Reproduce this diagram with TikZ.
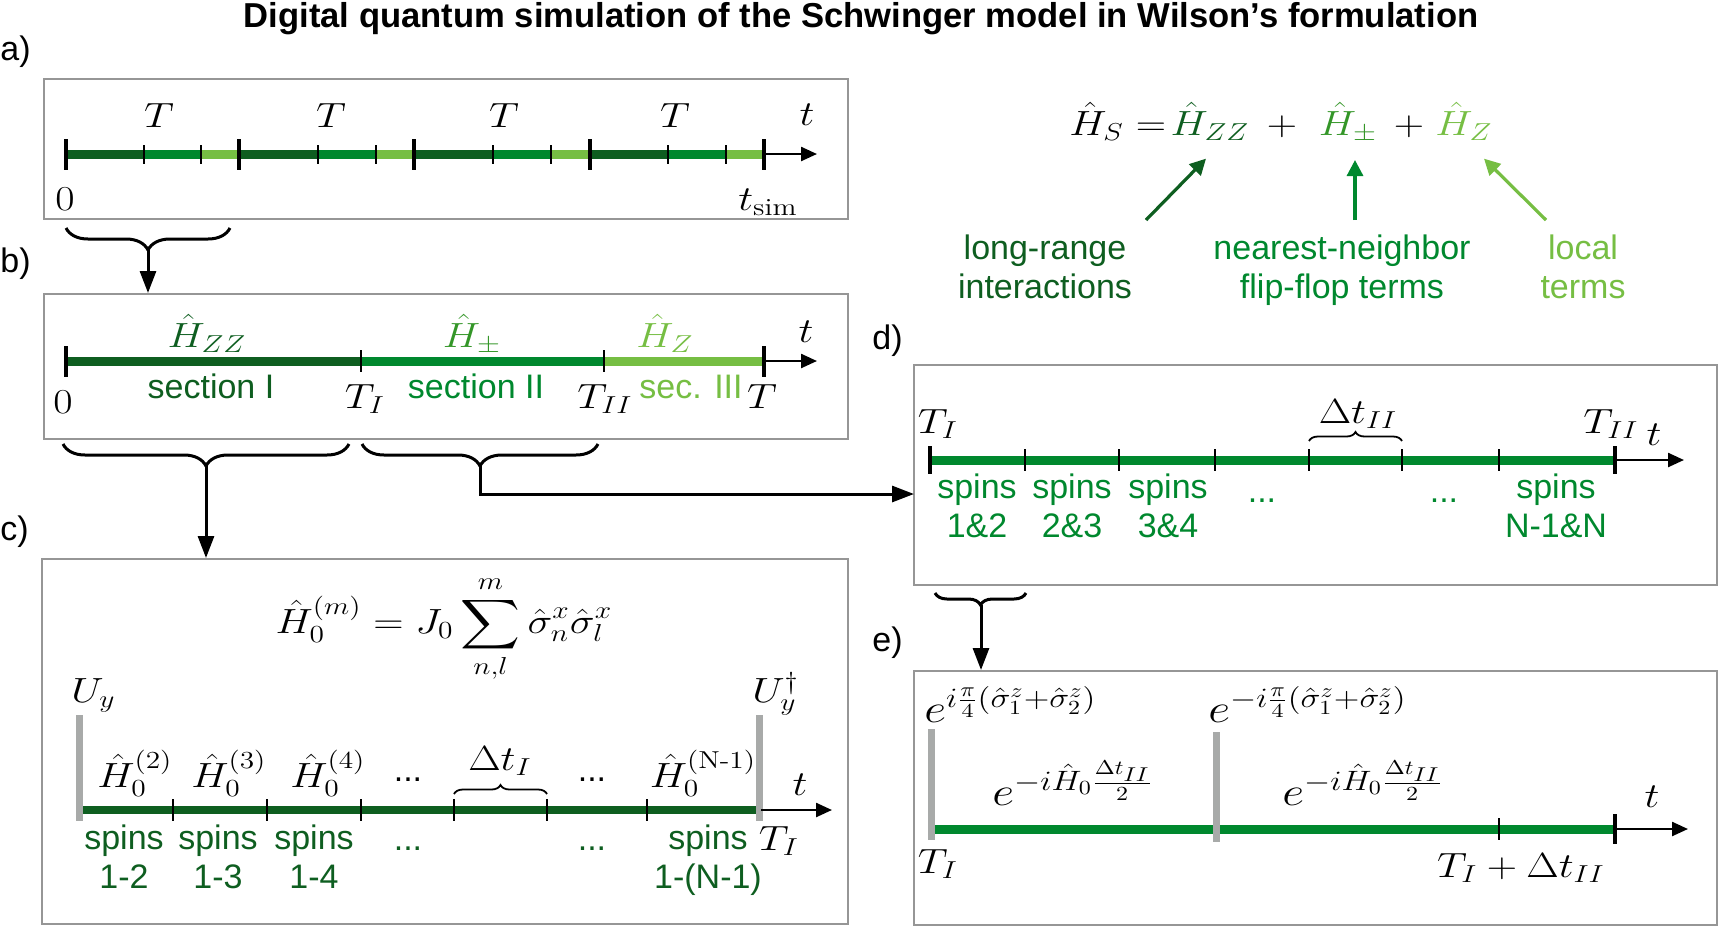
\RequirePackage{fix-cm}
\documentclass[tikz,border=0pt]{standalone}
\usepackage{amsmath}
\usepackage{fontspec}
\setsansfont{Liberation Sans}
\usetikzlibrary{arrows.meta,decorations.pathreplacing,fit,calc}
\definecolor{dg}{RGB}{14,94,32}
\definecolor{mg}{RGB}{0,136,46}
\definecolor{pg}{RGB}{52,150,40}
\definecolor{lg}{RGB}{118,190,67}
\definecolor{boxgray}{RGB}{150,150,150}
\definecolor{bargray}{RGB}{168,170,169}
\newcommand\mx[1]{\scalebox{1.2}[1]{$#1$}}
\newcommand\mxd[1]{\scalebox{1.2}[1]{$\displaystyle #1$}}
\begin{document}
\begin{tikzpicture}[x=0.5pt,y=-0.5pt,
  mth/.style={inner sep=0pt, font=\fontsize{17.5}{20}\selectfont},
  mthbig/.style={inner sep=0pt, font=\fontsize{20}{22}\selectfont},
  sf/.style={inner sep=0pt, font=\sffamily\fontsize{17}{19.5}\selectfont, align=center},
  panel/.style={draw=boxgray, line width=1pt, inner sep=0pt},
  bar/.style={line width=4.5pt},
  bigtick/.style={line width=2.4pt},
  thintick/.style={line width=1pt},
  gbar/.style={draw=bargray, line width=3.5pt},
  axis/.style={line width=1.2pt, -{Triangle[length=8pt,width=7pt]}},
  conn/.style={line width=1.5pt, -{Triangle[length=11pt,width=8pt]}},
  harrow/.style={line width=1.6pt, -{Triangle[length=8pt,width=8pt]}},
  bigbrace/.style={line width=1.5pt, decorate, decoration={brace, mirror, amplitude=11pt}},
  smallbrace/.style={line width=0.9pt, decorate, decoration={brace, amplitude=4.5pt}},
]
\useasboundingbox (0,0) rectangle (1720,927);

% title
\node[inner sep=0pt, anchor=base, font=\sffamily\bfseries\fontsize{17.3}{20}\selectfont] (title) at (861,27)
  {Digital quantum simulation of the Schwinger model in Wilson’s formulation};

% panel labels
\node[sf, anchor=base west] (la) at (0,60) {a)};
\node[sf, anchor=base west] (lb) at (0,272) {b)};
\node[sf, anchor=base west] (lc) at (0,540) {c)};
\node[sf, anchor=base west] (ld) at (872,349) {d)};
\node[sf, anchor=base west] (le) at (872,651) {e)};

% ---------- panel a ----------
\node[panel, fit={(44,79)(848,219)}] (A) {};
\foreach \s/\e in {66/239,239/414,414/590,590/764}{
  \pgfmathsetmacro\pa{\s+0.45*(\e-\s)}
  \pgfmathsetmacro\pb{\s+0.78*(\e-\s)}
  \draw[bar,dg] (\s,154) -- (\pa,154);
  \draw[bar,mg] (\pa,154) -- (\pb,154);
  \draw[bar,lg] (\pb,154) -- (\e,154);
  \draw[thintick] (\pa,145) -- (\pa,164);
  \draw[thintick] (\pb,145) -- (\pb,164);
  \draw[bigtick] (\s,139) -- (\s,170);
}
\draw[bigtick] (764,139) -- (764,170);
\draw[axis] (764,154) -- (817,154);
\node[mth, anchor=base] (aT1) at (159,127) {\mx{T}};
\node[mth, anchor=base] (aT2) at (331,127) {\mx{T}};
\node[mth, anchor=base] (aT3) at (504,127) {\mx{T}};
\node[mth, anchor=base] (aT4) at (675,127) {\mx{T}};
\node[mth, anchor=base] (at) at (807,125) {\mx{t}};
\node[mth, anchor=base] (a0) at (65,210) {\mx{0}};
\node[mth, anchor=base] (atsim) at (768,210) {\mx{t_{\mathrm{sim}}}};

% brace a -> b
\coordinate (bAl) at (66,228);
\coordinate (bAr) at (230,228);
\coordinate (bAt) at (148,250);
\draw[bigbrace] (bAl) -- (bAr);

% ---------- panel b ----------
\node[panel, fit={(44,294)(848,439)}] (B) {};
\draw[conn] (bAt) -- (bAt |- B.north);
\draw[bar,dg] (66,361) -- (361,361);
\draw[bar,mg] (361,361) -- (604,361);
\draw[bar,lg] (604,361) -- (764,361);
\draw[bigtick] (66,346) -- (66,377);
\draw[thintick] (361,350) -- (361,372);
\draw[thintick] (604,350) -- (604,372);
\draw[bigtick] (764,346) -- (764,377);
\draw[axis] (764,361) -- (817,361);
\node[mth, anchor=base, text=dg] (bHzz) at (207,347) {\mx{\hat H_{ZZ}}};
\node[mth, anchor=base, text=pg] (bHpm) at (472,347) {\mx{\hat H_{\pm}}};
\node[mth, anchor=base, text=lg] (bHz) at (665,347) {\mx{\hat H_{Z}}};
\node[mth, anchor=base] (bt) at (806,342) {\mx{t}};
\node[sf, anchor=base, text=dg] (bs1) at (211,398) {section I};
\node[sf, anchor=base, text=mg] (bs2) at (476,398) {section II};
\node[sf, anchor=base, text=lg] (bs3) at (691,398) {sec. III};
\node[mth, anchor=base] (b0) at (63,413) {\mx{0}};
\node[mth, anchor=base] (bTI) at (365,408) {\mx{T_I}};
\node[mth, anchor=base] (bTII) at (605,408) {\mx{T_{II}}};
\node[mth, anchor=base] (bT) at (762,408) {\mx{T}};

% braces b -> c, b -> d
\coordinate (bB1l) at (63,444);
\coordinate (bB1r) at (349,444);
\coordinate (bB1t) at (206,466);
\coordinate (bB2l) at (362,444);
\coordinate (bB2r) at (598,444);
\coordinate (bB2t) at (480,466);
\draw[bigbrace] (bB1l) -- (bB1r);
\draw[bigbrace] (bB2l) -- (bB2r);

% ---------- panel c ----------
\node[panel, fit={(42,559)(848,924)}] (C) {};
\draw[conn] (bB1t) -- (bB1t |- C.north);
\node[mth, anchor=base] (cHm) at (444,633)
  {\mxd{\hat H_0^{(m)} = J_0\sum_{n,l}^{m}\hat\sigma_n^x\hat\sigma_l^x}};
\draw[bar,dg,line width=4pt] (79,810) -- (759,810);
\foreach \x in {173,267,361,454,547,647}{
  \draw[thintick] (\x,799) -- (\x,821);
}
\draw[gbar] (79,715) -- (79,821);
\draw[gbar] (759,715) -- (759,821);
\draw[axis] (761,810) -- (832,810);
\node[mth, anchor=base west] (cUy) at (71,702) {\mx{U_y}};
\node[mth, anchor=base west] (cUyd) at (752,702) {\mx{U_y^\dagger}};
\node[mth, anchor=base] (cH2) at (135,787) {\mx{\hat H_0^{(2)}}};
\node[mth, anchor=base] (cH3) at (229,787) {\mx{\hat H_0^{(3)}}};
\node[mth, anchor=base] (cH4) at (328,787) {\mx{\hat H_0^{(4)}}};
\node[sf, anchor=base] (cd1) at (408,781) {...};
\node[mth, anchor=base] (cdt) at (500,770) {\mx{\Delta t_I}};
\draw[smallbrace] (454,794) -- (547,794);
\node[sf, anchor=base] (cd2) at (592,781) {...};
\node[mth, anchor=base] (cHN) at (703,787) {\mx{\hat H_0^{(\text{N-1})}}};
\node[mth, anchor=base] (ct) at (800,795) {\mx{t}};
\node[mth, anchor=base] (cTI) at (779,850) {\mx{T_I}};
\node[sf, anchor=base, text=dg] (cs1) at (124,888) {spins\\1-2};
\node[sf, anchor=base, text=dg] (cs2) at (218,888) {spins\\1-3};
\node[sf, anchor=base, text=dg] (cs3) at (314,888) {spins\\1-4};
\node[sf, anchor=base, text=dg] (cd3) at (408,850) {...};
\node[sf, anchor=base, text=dg] (cd4) at (592,850) {...};
\node[sf, anchor=base, text=dg] (cs4) at (708,888) {spins\\1-(N-1)};

% ---------- panel d ----------
\node[panel, fit={(914,365)(1717,585)}] (D) {};
\coordinate (dIn) at (914,494);
\draw[conn] (bB2t) |- (dIn);
\draw[bar,mg] (930,460) -- (1615,460);
\draw[bigtick] (930,446) -- (930,474);
\foreach \x in {1025,1119,1215,1309,1402,1499}{
  \draw[thintick] (\x,449) -- (\x,471);
}
\draw[bigtick] (1615,446) -- (1615,474);
\draw[axis] (1615,460) -- (1684,460);
\node[mth, anchor=base] (dTI) at (938,433) {\mx{T_I}};
\node[mth, anchor=base] (ddt) at (1358,423) {\mx{\Delta t_{II}}};
\draw[smallbrace] (1309,441) -- (1402,441);
\node[mth, anchor=base] (dTII) at (1611,433) {\mx{T_{II}}};
\node[mth, anchor=base] (dt) at (1654,445) {\mx{t}};
\node[sf, anchor=base, text=mg] (ds1) at (977,537) {spins\\1\&2};
\node[sf, anchor=base, text=mg] (ds2) at (1072,537) {spins\\2\&3};
\node[sf, anchor=base, text=mg] (ds3) at (1168,537) {spins\\3\&4};
\node[sf, anchor=base, text=mg] (dd1) at (1262,502) {...};
\node[sf, anchor=base, text=mg] (dd2) at (1444,502) {...};
\node[sf, anchor=base, text=mg] (ds4) at (1556,537) {spins\\N-1\&N};

% brace d -> e
\coordinate (bDl) at (935,593);
\coordinate (bDr) at (1026,593);
\coordinate (bDt) at (981,605);
\draw[bigbrace, decoration={brace, mirror, amplitude=6pt}] (bDl) -- (bDr);

% ---------- panel e ----------
\node[panel, fit={(914,671)(1717,925)}] (E) {};
\draw[conn] (bDt) -- (bDt |- E.north);
\draw[bar,mg] (931,829) -- (1615,829);
\draw[gbar] (931,729) -- (931,840);
\draw[gbar] (1216,732) -- (1216,842);
\draw[thintick] (1499,818) -- (1499,840);
\draw[bigtick] (1615,814) -- (1615,844);
\draw[axis] (1615,829) -- (1688,829);
\node[mthbig, anchor=base west] (eU1) at (924,722)
  {\mx{e^{i\frac{\pi}{4}(\hat\sigma_1^z+\hat\sigma_2^z)}}};
\node[mthbig, anchor=base west] (eU2) at (1208,722)
  {\mx{e^{-i\frac{\pi}{4}(\hat\sigma_1^z+\hat\sigma_2^z)}}};
\node[mthbig, anchor=base] (eH1) at (1073,805)
  {\mx{e^{-i\hat H_0\frac{\Delta t_{II}}{2}}}};
\node[mthbig, anchor=base] (eH2) at (1363,805)
  {\mx{e^{-i\hat H_0\frac{\Delta t_{II}}{2}}}};
\node[mth, anchor=base] (et) at (1652,807) {\mx{t}};
\node[mth, anchor=base] (eTI) at (938,873) {\mx{T_I}};
\node[mth, anchor=base] (eTd) at (1521,877) {\mx{T_I+\Delta t_{II}}};

% ---------- top right ----------
\node[mth, anchor=base west] (HS) at (1069,135) {\mx{\hat H_S =}};
\node[mth, anchor=base, text=dg] (HZZ) at (1210,135) {\mx{\hat H_{ZZ}}};
\node[mth, anchor=base] (p1) at (1282,135) {\mx{+}};
\node[mth, anchor=base, text=pg] (Hpm) at (1348,135) {\mx{\hat H_{\pm}}};
\node[mth, anchor=base] (p2) at (1409,135) {\mx{+}};
\node[mth, anchor=base, text=lg] (HZ) at (1464,135) {\mx{\hat H_{Z}}};
\node[sf, anchor=base, text=dg] (lr) at (1045,298) {long-range\\interactions};
\node[sf, anchor=base, text=mg] (nn) at (1342,298) {nearest-neighbor\\flip-flop terms};
\node[sf, anchor=base, text=lg] (lo) at (1583,298) {local\\terms};
\coordinate (ar1s) at (1146,220);
\coordinate (ar2s) at (1355,220);
\coordinate (ar3s) at (1546,220);
\draw[harrow,dg] (ar1s) -- ($(HZZ.south)+(-4,18)$);
\draw[harrow,mg] (ar2s) -- (ar2s |- 0,160);
\draw[harrow,lg] (ar3s) -- ($(HZ.south)+(20,18)$);
\end{tikzpicture}
\end{document}
